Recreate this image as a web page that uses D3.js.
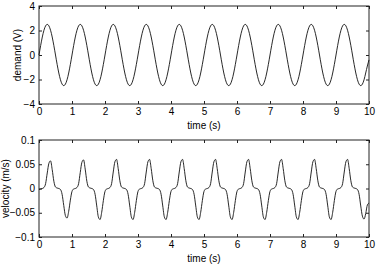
<!DOCTYPE html>
<html>
<head>
<meta charset="utf-8">
<script src="https://cdn.jsdelivr.net/npm/d3@7"></script>
<style>
  body { margin: 0; background: #fff; }
  svg { display: block; font-family: "Liberation Sans", Arial, sans-serif; }
  .tick text { font-size: 10px; fill: #000; }
  .domain { display: none; }
  .tick line { stroke: #222; }
</style>
</head>
<body>
<svg id="chart" width="377" height="268"></svg>
<script>
// sample times (s)
const time = [
  0.00, 0.05, 0.10, 0.15, 0.20, 0.25, 0.30, 0.35, 0.40, 0.45, 0.50, 0.55, 0.60, 0.65, 0.70, 0.75, 0.80, 0.85, 0.90, 0.95,
  1.00, 1.05, 1.10, 1.15, 1.20, 1.25, 1.30, 1.35, 1.40, 1.45, 1.50, 1.55, 1.60, 1.65, 1.70, 1.75, 1.80, 1.85, 1.90, 1.95,
  2.00, 2.05, 2.10, 2.15, 2.20, 2.25, 2.30, 2.35, 2.40, 2.45, 2.50, 2.55, 2.60, 2.65, 2.70, 2.75, 2.80, 2.85, 2.90, 2.95,
  3.00, 3.05, 3.10, 3.15, 3.20, 3.25, 3.30, 3.35, 3.40, 3.45, 3.50, 3.55, 3.60, 3.65, 3.70, 3.75, 3.80, 3.85, 3.90, 3.95,
  4.00, 4.05, 4.10, 4.15, 4.20, 4.25, 4.30, 4.35, 4.40, 4.45, 4.50, 4.55, 4.60, 4.65, 4.70, 4.75, 4.80, 4.85, 4.90, 4.95,
  5.00, 5.05, 5.10, 5.15, 5.20, 5.25, 5.30, 5.35, 5.40, 5.45, 5.50, 5.55, 5.60, 5.65, 5.70, 5.75, 5.80, 5.85, 5.90, 5.95,
  6.00, 6.05, 6.10, 6.15, 6.20, 6.25, 6.30, 6.35, 6.40, 6.45, 6.50, 6.55, 6.60, 6.65, 6.70, 6.75, 6.80, 6.85, 6.90, 6.95,
  7.00, 7.05, 7.10, 7.15, 7.20, 7.25, 7.30, 7.35, 7.40, 7.45, 7.50, 7.55, 7.60, 7.65, 7.70, 7.75, 7.80, 7.85, 7.90, 7.95,
  8.00, 8.05, 8.10, 8.15, 8.20, 8.25, 8.30, 8.35, 8.40, 8.45, 8.50, 8.55, 8.60, 8.65, 8.70, 8.75, 8.80, 8.85, 8.90, 8.95,
  9.00, 9.05, 9.10, 9.15, 9.20, 9.25, 9.30, 9.35, 9.40, 9.45, 9.50, 9.55, 9.60, 9.65, 9.70, 9.75, 9.80, 9.85, 9.90, 9.95,
  10.00
];

// demand voltage (V)
const demand = [
  0.00, 0.77, 1.47, 2.02, 2.38, 2.50, 2.38, 2.02, 1.47, 0.77, 0.00, -0.77, -1.47, -2.02, -2.38, -2.50, -2.38, -2.02, -1.47, -0.77,
  0.00, 0.77, 1.47, 2.02, 2.38, 2.50, 2.38, 2.02, 1.47, 0.77, 0.00, -0.77, -1.47, -2.02, -2.38, -2.50, -2.38, -2.02, -1.47, -0.77,
  0.00, 0.77, 1.47, 2.02, 2.38, 2.50, 2.38, 2.02, 1.47, 0.77, 0.00, -0.77, -1.47, -2.02, -2.38, -2.50, -2.38, -2.02, -1.47, -0.77,
  0.00, 0.77, 1.47, 2.02, 2.38, 2.50, 2.38, 2.02, 1.47, 0.77, 0.00, -0.77, -1.47, -2.02, -2.38, -2.50, -2.38, -2.02, -1.47, -0.77,
  0.00, 0.77, 1.47, 2.02, 2.38, 2.50, 2.38, 2.02, 1.47, 0.77, 0.00, -0.77, -1.47, -2.02, -2.38, -2.50, -2.38, -2.02, -1.47, -0.77,
  0.00, 0.77, 1.47, 2.02, 2.38, 2.50, 2.38, 2.02, 1.47, 0.77, 0.00, -0.77, -1.47, -2.02, -2.38, -2.50, -2.38, -2.02, -1.47, -0.77,
  0.00, 0.77, 1.47, 2.02, 2.38, 2.50, 2.38, 2.02, 1.47, 0.77, 0.00, -0.77, -1.47, -2.02, -2.38, -2.50, -2.38, -2.02, -1.47, -0.77,
  0.00, 0.77, 1.47, 2.02, 2.38, 2.50, 2.38, 2.02, 1.47, 0.77, 0.00, -0.77, -1.47, -2.02, -2.38, -2.50, -2.38, -2.02, -1.47, -0.77,
  0.00, 0.77, 1.47, 2.02, 2.38, 2.50, 2.38, 2.02, 1.47, 0.77, 0.00, -0.77, -1.47, -2.02, -2.38, -2.50, -2.38, -2.02, -1.47, -0.77,
  0.00, 0.77, 1.47, 2.02, 2.38, 2.50, 2.38, 2.02, 1.47, 0.77, 0.00, -0.77, -1.47, -2.02, -2.38, -2.50, -2.38, -2.02, -1.47, -0.90,
  -0.40
];

// velocity (m/s)
const velocity = [
  -0.002, -0.001, 0.000, 0.002, 0.010, 0.032, 0.052, 0.057, 0.039, 0.015, 0.003, 0.001, 0.000, -0.002, -0.012, -0.035, -0.056, -0.061, -0.047, -0.024,
  -0.006, -0.001, 0.000, 0.002, 0.010, 0.033, 0.054, 0.059, 0.040, 0.015, 0.003, 0.001, 0.000, -0.002, -0.012, -0.036, -0.059, -0.064, -0.049, -0.025,
  -0.006, -0.001, 0.000, 0.002, 0.010, 0.034, 0.055, 0.060, 0.041, 0.016, 0.003, 0.001, 0.000, -0.002, -0.012, -0.036, -0.059, -0.064, -0.049, -0.025,
  -0.006, -0.001, 0.000, 0.002, 0.010, 0.034, 0.055, 0.060, 0.041, 0.016, 0.003, 0.001, 0.000, -0.002, -0.012, -0.036, -0.059, -0.064, -0.049, -0.025,
  -0.006, -0.001, 0.000, 0.002, 0.010, 0.034, 0.055, 0.060, 0.041, 0.016, 0.003, 0.001, 0.000, -0.002, -0.012, -0.036, -0.059, -0.064, -0.049, -0.025,
  -0.006, -0.001, 0.000, 0.002, 0.010, 0.034, 0.055, 0.060, 0.041, 0.016, 0.003, 0.001, 0.000, -0.002, -0.012, -0.036, -0.059, -0.064, -0.049, -0.025,
  -0.006, -0.001, 0.000, 0.002, 0.010, 0.034, 0.055, 0.060, 0.041, 0.016, 0.003, 0.001, 0.000, -0.002, -0.012, -0.036, -0.059, -0.064, -0.049, -0.025,
  -0.006, -0.001, 0.000, 0.002, 0.010, 0.034, 0.055, 0.060, 0.041, 0.016, 0.003, 0.001, 0.000, -0.002, -0.012, -0.036, -0.059, -0.064, -0.049, -0.025,
  -0.006, -0.001, 0.000, 0.002, 0.010, 0.034, 0.055, 0.060, 0.041, 0.016, 0.003, 0.001, 0.000, -0.002, -0.012, -0.036, -0.059, -0.064, -0.049, -0.025,
  -0.006, -0.001, 0.000, 0.002, 0.010, 0.034, 0.055, 0.060, 0.041, 0.016, 0.003, 0.001, 0.000, -0.002, -0.012, -0.036, -0.057, -0.063, -0.052, -0.034,
  -0.030
];

const xTicks = [0, 1, 2, 3, 4, 5, 6, 7, 8, 9, 10];
const demandTicks = [-4, -2, 0, 2, 4];
const velocityTicks = [-0.1, -0.05, 0, 0.05, 0.1];

const svg = d3.select('#chart');
const left = 39, right = 369;

const x = d3.scaleLinear().domain([0, 10]).range([left, right]);

const fmt = d => String(d).replace('-', '\u2212');

function panel(top, bottom, yDomain, yTicks, values, yLabel) {
  const y = d3.scaleLinear().domain(yDomain).range([bottom, top]);

  svg.append('g')
    .attr('transform', `translate(0,${bottom})`)
    .call(d3.axisBottom(x).tickValues(xTicks).tickSize(-3).tickPadding(4).tickFormat(fmt));
  svg.append('g')
    .attr('transform', `translate(0,${top})`)
    .call(d3.axisTop(x).tickValues(xTicks).tickSize(-3).tickFormat(''));
  svg.append('g')
    .attr('transform', `translate(${left},0)`)
    .call(d3.axisLeft(y).tickValues(yTicks).tickSize(-3).tickPadding(4).tickFormat(fmt));
  svg.append('g')
    .attr('transform', `translate(${right},0)`)
    .call(d3.axisRight(y).tickValues(yTicks).tickSize(-3).tickFormat(''));

  svg.append('rect')
    .attr('x', left).attr('y', top)
    .attr('width', right - left).attr('height', bottom - top)
    .attr('fill', 'none').attr('stroke', '#222').attr('stroke-width', 1);

  const line = d3.line()
    .x((d, i) => x(time[i]))
    .y(d => y(d))
    .curve(d3.curveMonotoneX);

  svg.append('path')
    .datum(values)
    .attr('d', line)
    .attr('fill', 'none')
    .attr('stroke', '#111')
    .attr('stroke-width', 0.9);

  svg.append('text')
    .attr('x', (left + right) / 2)
    .attr('y', bottom + 25)
    .attr('text-anchor', 'middle')
    .attr('font-size', 10)
    .text('time (s)');

  svg.append('text')
    .attr('transform', `translate(${yLabel.x},${(top + bottom) / 2}) rotate(-90)`)
    .attr('text-anchor', 'middle')
    .attr('font-size', 10)
    .text(yLabel.text);
}

panel(6, 104, [-4, 4], demandTicks, demand, { x: 21, text: 'demand (V)' });
panel(140, 237, [-0.1, 0.1], velocityTicks, velocity, { x: 9, text: 'velocity (m/s)' });
</script>
</body>
</html>
